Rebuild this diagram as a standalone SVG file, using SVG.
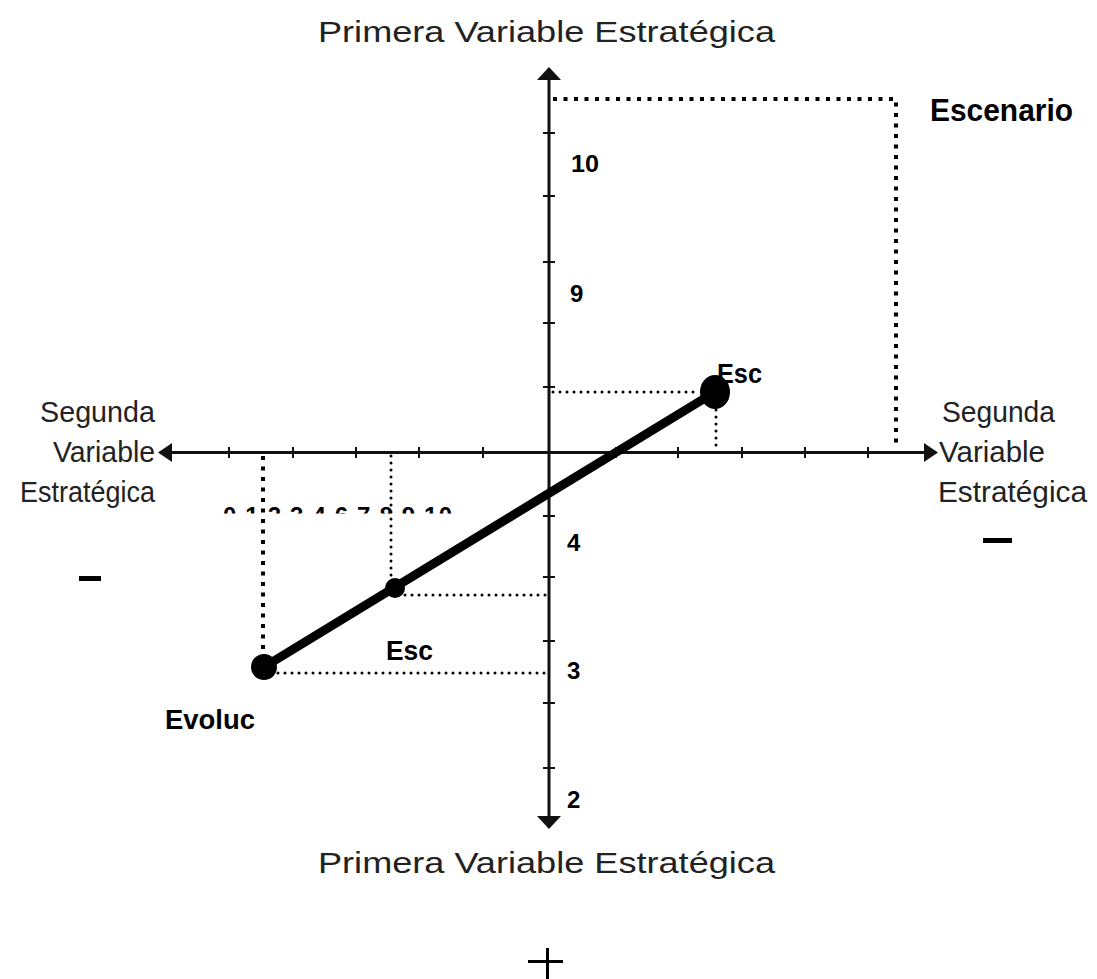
<svg xmlns="http://www.w3.org/2000/svg" width="1097" height="979" viewBox="0 0 1097 979">
<style>
.lab{font-family:"Liberation Sans",Arial,sans-serif;font-size:30px;fill:#222}
.b{font-family:"Liberation Sans",Arial,sans-serif;font-weight:bold;fill:#000}
.axis{stroke:#111;stroke-width:3;fill:none}
.tick{stroke:#111;stroke-width:2}
.dots{stroke:#000;stroke-width:3;stroke-linecap:round;stroke-dasharray:0 7;fill:none}
.sq{stroke:#000;stroke-width:4;stroke-dasharray:4 6.5;fill:none}
</style>
<defs>
<clipPath id="clipTicks"><rect x="200" y="495" width="280" height="18.5"/></clipPath>
</defs>
<rect width="1097" height="979" fill="#fff"/>
<g id="connectors">
<line class="axis" x1="549" y1="75" x2="549" y2="820"/>
<line class="axis" x1="166" y1="452.5" x2="930" y2="452.5"/>
<polygon points="549,67 537,80 561,80" fill="#111"/>
<polygon points="549,829 537,816 561,816" fill="#111"/>
<polygon points="158,452.5 172,443 172,462" fill="#111"/>
<polygon points="938,452.5 924,443 924,462" fill="#111"/>
<g class="tick">
<line x1="543" y1="133" x2="555" y2="133"/>
<line x1="543" y1="196" x2="555" y2="196"/>
<line x1="543" y1="262" x2="555" y2="262"/>
<line x1="543" y1="323" x2="555" y2="323"/>
<line x1="543" y1="387" x2="555" y2="387"/>
<line x1="543" y1="516" x2="555" y2="516"/>
<line x1="543" y1="577" x2="555" y2="577"/>
<line x1="543" y1="641" x2="555" y2="641"/>
<line x1="543" y1="703" x2="555" y2="703"/>
<line x1="543" y1="768" x2="555" y2="768"/>
<line x1="229" y1="447" x2="229" y2="458"/>
<line x1="293" y1="447" x2="293" y2="458"/>
<line x1="356" y1="447" x2="356" y2="458"/>
<line x1="419" y1="447" x2="419" y2="458"/>
<line x1="483" y1="447" x2="483" y2="458"/>
<line x1="616" y1="447" x2="616" y2="458"/>
<line x1="678" y1="447" x2="678" y2="458"/>
<line x1="742" y1="447" x2="742" y2="458"/>
<line x1="805" y1="447" x2="805" y2="458"/>
<line x1="868" y1="447" x2="868" y2="458"/>
</g>
<polyline class="sq" points="553,99 896,99 896,448"/>
<line class="sq" x1="263" y1="456" x2="263" y2="656"/>
<line class="dots" x1="553" y1="392" x2="700" y2="392"/>
<line class="dots" x1="716" y1="410" x2="716" y2="447"/>
<line class="dots" x1="391" y1="456" x2="391" y2="580"/>
<line class="dots" x1="405" y1="595" x2="547" y2="595"/>
<line class="dots" x1="278" y1="673" x2="547" y2="673"/>
<line x1="264" y1="667" x2="715" y2="392" stroke="#000" stroke-width="9"/>
</g>
<g id="point-esc-top"><ellipse cx="715" cy="392" rx="15" ry="17"/><text class="b" x="717" y="383" font-size="27" textLength="45" lengthAdjust="spacingAndGlyphs">Esc</text></g>
<g id="point-esc-mid"><circle cx="395" cy="588" r="10"/><text class="b" x="386" y="660" font-size="27" textLength="47" lengthAdjust="spacingAndGlyphs">Esc</text></g>
<g id="point-evoluc"><circle cx="264" cy="667" r="13"/><text class="b" x="165" y="729" font-size="27" textLength="90" lengthAdjust="spacingAndGlyphs">Evoluc</text></g>
<g id="labels">
<text class="lab" x="318" y="42" font-size="35" textLength="457" lengthAdjust="spacingAndGlyphs">Primera Variable Estratégica</text>
<text class="lab" x="318" y="873" font-size="35" textLength="457" lengthAdjust="spacingAndGlyphs">Primera Variable Estratégica</text>
<text class="lab" x="40" y="422" textLength="115" lengthAdjust="spacingAndGlyphs">Segunda</text>
<text class="lab" x="53" y="462" textLength="102" lengthAdjust="spacingAndGlyphs">Variable</text>
<text class="lab" x="20" y="502" textLength="135" lengthAdjust="spacingAndGlyphs">Estratégica</text>
<text class="lab" x="942" y="422" textLength="113" lengthAdjust="spacingAndGlyphs">Segunda</text>
<text class="lab" x="939" y="462" textLength="106" lengthAdjust="spacingAndGlyphs">Variable</text>
<text class="lab" x="938" y="502" textLength="149" lengthAdjust="spacingAndGlyphs">Estratégica</text>
<text class="b" x="930" y="121" font-size="31" textLength="143" lengthAdjust="spacingAndGlyphs">Escenario</text>
<text class="b" x="571" y="172" font-size="24" textLength="28" lengthAdjust="spacingAndGlyphs">10</text>
<text class="b" x="570" y="302" font-size="24">9</text>
<text class="b" x="567" y="551" font-size="24">4</text>
<text class="b" x="567" y="679" font-size="24">3</text>
<text class="b" x="567" y="808" font-size="24">2</text>
<text class="b" x="223" y="524" font-size="24" textLength="229" lengthAdjust="spacing" clip-path="url(#clipTicks)">0 1 2 3 4 6 7 8 9 10</text>
<rect x="79" y="576" width="22" height="5" fill="#000"/>
<rect x="983" y="538" width="29" height="5" fill="#000"/>
<rect x="528" y="960" width="35" height="3" fill="#000"/>
<rect x="546" y="948" width="3" height="31" fill="#000"/>
</g>
</svg>
